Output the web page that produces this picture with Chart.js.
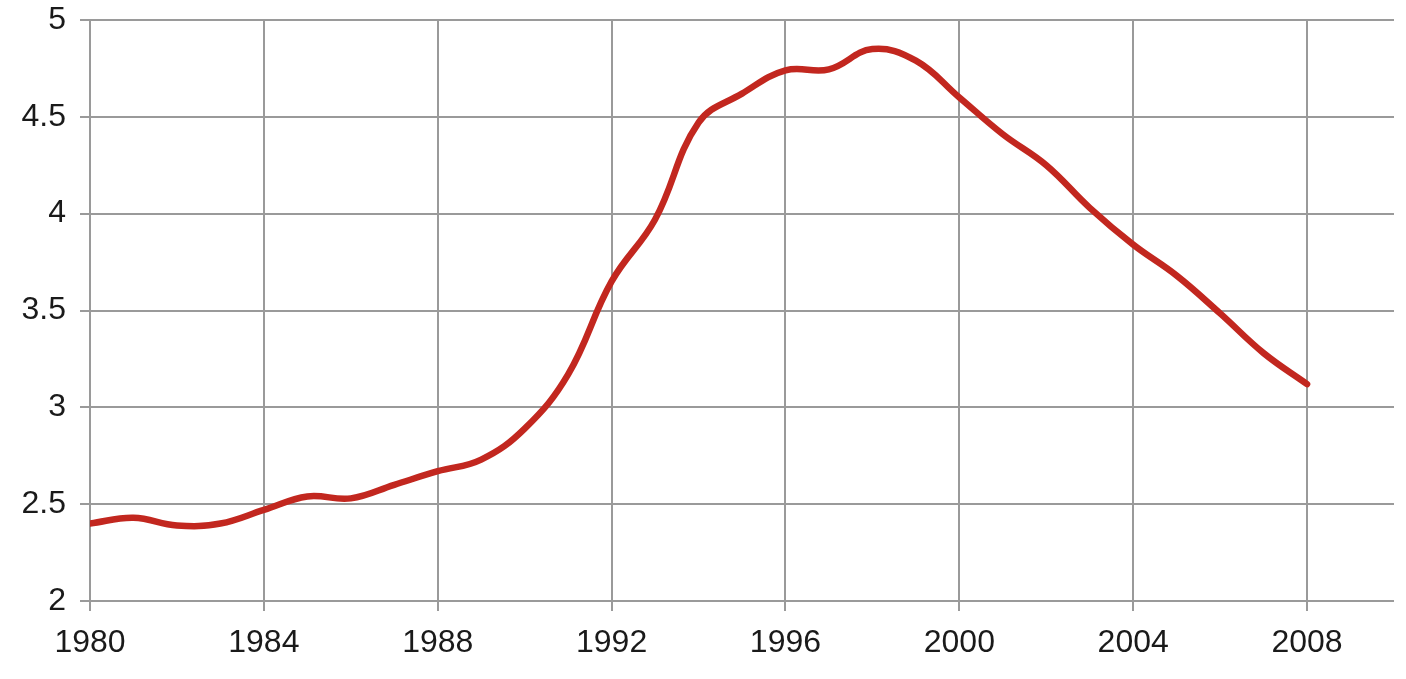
<!DOCTYPE html>
<html>
<head>
<meta charset="utf-8">
<script src="https://cdn.jsdelivr.net/npm/chart.js@4/dist/chart.umd.min.js"></script>
<style>
  html, body { margin: 0; padding: 0; background: #ffffff; }
  #wrap { width: 1406px; height: 679px; position: relative; }
</style>
</head>
<body>
<div id="wrap"><canvas id="c"></canvas></div>
<script>
const years = [1980, 1981, 1982, 1983, 1984, 1985, 1986, 1987, 1988, 1989,
               1990, 1991, 1992, 1993, 1994, 1995, 1996, 1997, 1998, 1999,
               2000, 2001, 2002, 2003, 2004, 2005, 2006, 2007, 2008];
const values = [2.40, 2.43, 2.39, 2.40, 2.47, 2.54, 2.53, 2.60, 2.67, 2.73,
                2.89, 3.17, 3.65, 3.97, 4.47, 4.62, 4.74, 4.745, 4.85, 4.79,
                4.60, 4.41, 4.25, 4.03, 3.84, 3.68, 3.485, 3.28, 3.12];
const xTickYears = [1980, 1984, 1988, 1992, 1996, 2000, 2004, 2008];
const yTickValues = [2, 2.5, 3, 3.5, 4, 4.5, 5];

const points = years.map((y, i) => ({ x: y, y: values[i] }));
const FONT = { family: "'Liberation Sans', Arial, Helvetica, sans-serif", size: 32 };
const GRID = '#9a9a9a';

new Chart(document.getElementById('c'), {
  type: 'line',
  data: {
    datasets: [{
      data: points,
      borderColor: '#c2271f',
      borderWidth: 6.5,
      pointRadius: 0,
      tension: 0.4,
      borderCapStyle: 'round',
      borderJoinStyle: 'round',
      fill: false
    }]
  },
  options: {
    responsive: true,
    maintainAspectRatio: false,
    animation: false,
    layout: { padding: { top: 20, right: 12, left: 0, bottom: 0 } },
    plugins: { legend: { display: false }, tooltip: { enabled: false } },
    scales: {
      x: {
        type: 'linear',
        min: 1980,
        max: 2010,
        afterBuildTicks: (s) => { s.ticks = xTickYears.map(v => ({ value: v })); },
        afterFit: (s) => { s.height = 78; s.paddingLeft = 0; s.paddingRight = 0; },
        ticks: {
          color: '#1a1a1a',
          font: FONT,
          padding: 13,
          maxRotation: 0,
          autoSkip: false,
          callback: (v) => String(v)
        },
        grid: { color: GRID, lineWidth: 2, tickLength: 10, drawTicks: true },
        border: { display: false }
      },
      y: {
        min: 2,
        max: 5,
        afterBuildTicks: (s) => { s.ticks = yTickValues.map(v => ({ value: v })); },
        afterFit: (s) => { s.width = 90; s.paddingTop = 0; s.paddingBottom = 0; },
        ticks: {
          color: '#1a1a1a',
          font: FONT,
          padding: 14,
          callback: (v) => String(v)
        },
        grid: { color: GRID, lineWidth: 2, tickLength: 10, drawTicks: true },
        border: { display: false }
      }
    }
  }
});
</script>
</body>
</html>
